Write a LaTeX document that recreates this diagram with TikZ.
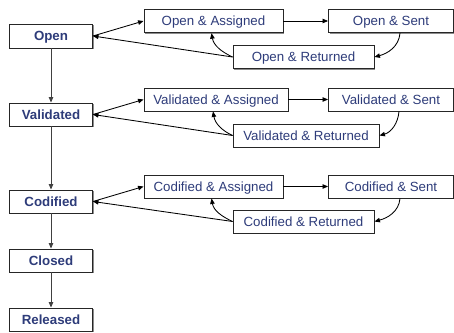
\documentclass[tikz,border=0pt]{standalone}
\usepackage{fontspec}
\setmainfont{Liberation Sans}
\usetikzlibrary{arrows.meta,shadows}
\definecolor{navy}{RGB}{46,60,122}
\begin{document}
\begin{tikzpicture}[x=1pt,y=-1pt,
  box/.style={draw=black!85, line width=0.9pt, fill=white, text=navy, inner sep=0pt,
    text height=9.6pt, text depth=0pt,
    font=\fontsize{13.3}{15}\selectfont,
    drop shadow={shadow xshift=1.2pt, shadow yshift=-1.2pt, fill=black!45, opacity=1}},
  mainbox/.style={box, minimum width=83pt, font=\fontsize{13.3}{15}\selectfont\bfseries},
  arr/.style={-{Triangle[length=5.5pt,width=4.5pt]}, line width=0.85pt, draw=black}
]
\useasboundingbox (0,0) rectangle (454,332);
% left column
\node[mainbox, minimum height=24pt] (open) at (51,36) {Open};
\node[mainbox, minimum height=23pt] (val) at (51,114.5) {Validated};
\node[mainbox, minimum height=23pt] (cod) at (51,201.5) {Codified};
\node[mainbox, minimum height=23pt] (clo) at (51,260.5) {Closed};
\node[mainbox, minimum height=23pt] (rel) at (51,319.5) {Released};
% open group
\node[box, minimum width=139pt, minimum height=23.5pt] (oa) at (213.5,21) {Open \& Assigned};
\node[box, minimum width=125pt, minimum height=23.5pt] (os) at (391,21) {Open \& Sent};
\node[box, minimum width=141pt, minimum height=23pt] (or) at (303.5,57) {Open \& Returned};
% validated group
\node[box, minimum width=144pt, minimum height=23pt] (va) at (216,99.5) {Validated \& Assigned};
\node[box, minimum width=125pt, minimum height=23pt] (vs) at (391,99.5) {Validated \& Sent};
\node[box, minimum width=146pt, minimum height=23pt] (vr) at (306,135.5) {Validated \& Returned};
% codified group
\node[box, minimum width=139pt, minimum height=23pt] (ca) at (213.5,186.5) {Codified \& Assigned};
\node[box, minimum width=125pt, minimum height=23pt] (cs) at (391,186.5) {Codified \& Sent};
\node[box, minimum width=141pt, minimum height=23pt] (cr) at (303.5,221.5) {Codified \& Returned};
% vertical
\draw[arr, draw=black!75] (open) -- (val);
\draw[arr, draw=black!75] (val) -- (cod);
\draw[arr, draw=black!75] (cod) -- (clo);
\draw[arr, draw=black!75] (clo) -- (rel);
% loops
\foreach \m/\a/\s/\r/\sx/\ax in {open/oa/os/or/9/-2, val/va/vs/vr/8/-3, cod/ca/cs/cr/9/-2}{
  \draw[arr] (\m.east) -- (\a.west);
  \draw[arr] (\r.west) -- (\m.east);
  \draw[arr] (\a.east) -- (\s.west);
  \draw[arr] ([xshift=\sx pt]\s.south) to[out=-95,in=15] (\r.east);
  \draw[arr] (\r.west) to[out=155,in=-80] ([xshift=\ax pt]\a.south);
}
\end{tikzpicture}
\end{document}
